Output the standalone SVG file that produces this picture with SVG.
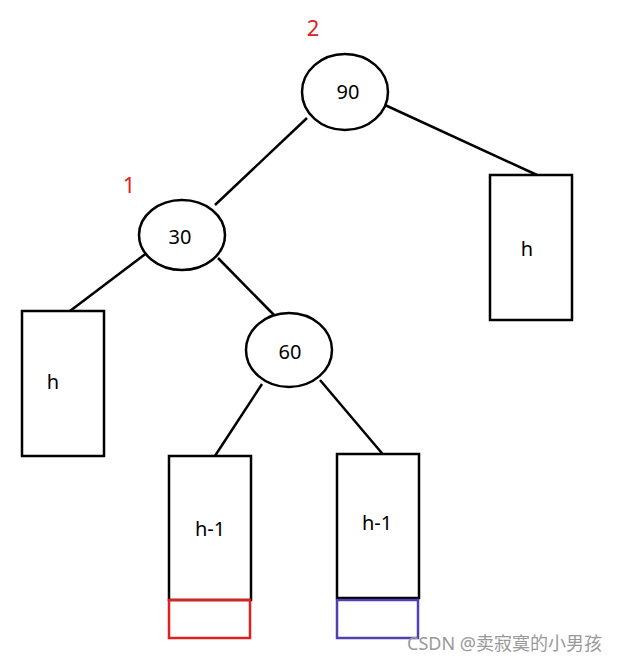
<svg xmlns="http://www.w3.org/2000/svg" width="618" height="664" viewBox="0 0 618 664">
<style>
.n{fill:#fff;stroke:#000;stroke-width:2.5}
.t{font-family:"Microsoft YaHei","Noto Sans",sans-serif;font-size:20px;fill:#000;text-anchor:middle}
.r{font-family:"Noto Sans",sans-serif;font-size:22px;fill:#e02020;text-anchor:middle}
.c line{stroke:#000;stroke-width:2.5}
</style>
<rect width="618" height="664" fill="#fff"/>
<g class="c">
<line x1="307" y1="118" x2="215" y2="205"/>
<line x1="385" y1="105" x2="537" y2="175"/>
<line x1="148" y1="252" x2="70" y2="311"/>
<line x1="218" y1="258" x2="275" y2="316"/>
<line x1="262" y1="384" x2="211" y2="462"/>
<line x1="320" y1="380" x2="386" y2="458"/>
</g>
<g id="n90"><ellipse class="n" cx="345" cy="92" rx="43" ry="38"/><text class="t" x="348" y="99">90</text></g>
<g id="n30"><ellipse class="n" cx="182" cy="235" rx="43" ry="35"/><text class="t" x="180" y="244">30</text></g>
<g id="n60"><ellipse class="n" cx="289" cy="350" rx="43" ry="37"/><text class="t" x="290" y="359">60</text></g>
<g id="hr"><rect class="n" x="490" y="175" width="82" height="145" fill="none"/><text class="t" x="527" y="256">h</text></g>
<g id="hl"><rect class="n" x="22" y="311" width="82" height="145"/><text class="t" x="53" y="389">h</text></g>
<g id="h1l"><rect class="n" x="169" y="456" width="82" height="144"/><text class="t" x="210" y="536">h-1</text>
<rect x="169" y="600" width="81" height="38" fill="none" stroke="#e02020" stroke-width="2.5"/></g>
<g id="h1r"><rect class="n" x="337" y="454" width="82" height="144"/><text class="t" x="377" y="530">h-1</text>
<rect x="337" y="600" width="81" height="38" fill="none" stroke="#5040b0" stroke-width="2.5"/></g>
<text class="r" x="313" y="36">2</text>
<text class="r" x="129" y="193">1</text>
<text x="602" y="650" font-family="'Noto Sans','Noto Sans CJK SC',sans-serif" font-size="18" fill="#999" text-anchor="end">CSDN @卖寂寞的小男孩</text>
</svg>
